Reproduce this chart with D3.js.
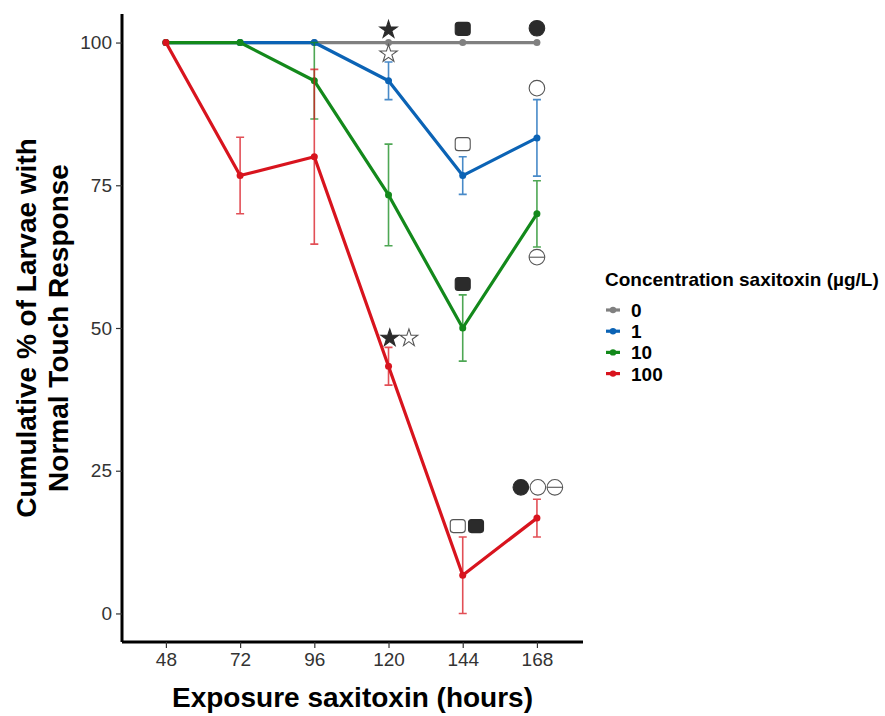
<!DOCTYPE html>
<html>
<head>
<meta charset="utf-8">
<script src="https://cdn.jsdelivr.net/npm/d3@7"></script>
<style>
  body { margin: 0; background: #fff; }
  text { font-family: "Liberation Sans", Arial, sans-serif; }
</style>
</head>
<body>
<div id="chart"></div>
<script>
// exposure times (hours)
var hours = [48, 72, 96, 120, 144, 168];

var concentrations = ["0", "1", "10", "100"];
var seriesColors = ["#808080", "#0b63b5", "#13891b", "#d8141e"];

// cumulative % of larvae with normal touch response, one array per concentration
var values0   = [100, 100, 100, 100, 100, 100];
var values1   = [100, 100, 100, 93.3, 76.7, 83.3];
var values10  = [100, 100, 93.3, 73.3, 50, 70];
var values100 = [100, 76.7, 80, 43.3, 6.7, 16.7];

// error (half length of bar)
var err0   = [0, 0, 0, 0, 0, 0];
var err1   = [0, 0, 0, 3.3, 3.3, 6.7];
var err10  = [0, 0, 6.7, 8.9, 5.8, 5.8];
var err100 = [0, 6.7, 15.3, 3.3, 6.7, 3.3];

var yTicks = [0, 25, 50, 75, 100];

// significance symbols: hour position, value, shape, filled or not
var markHours  = [120, 144, 168, 120, 144, 168, 144, 168, 120.4, 126.6, 142.4, 148.3, 162.8, 168.3, 173.8];
var markValues = [102.4, 102.4, 102.5, 98.2, 82.2, 92, 57.7, 62.4, 48.4, 48.4, 15.3, 15.3, 22.1, 22.1, 22.1];
var markShapes = ["star", "square", "circle", "star", "square", "circle", "square", "theta",
                  "star", "star", "square", "square", "circle", "circle", "theta"];
var markFilled = [true, true, true, false, false, false, true, false,
                  true, false, false, true, true, false, false];

var series = [values0, values1, values10, values100];
var errors = [err0, err1, err10, err100];

var w = 885, h = 716;
var svg = d3.select("#chart").append("svg")
    .attr("width", w)
    .attr("height", h);

var x = d3.scaleLinear().domain([33.8, 182.9]).range([122, 583]);
var y = d3.scaleLinear().domain([-5, 105]).range([642, 14]);

// axes
var xAxis = svg.append("g")
    .attr("transform", "translate(0,642)")
    .call(d3.axisBottom(x).tickValues(hours).tickSize(6).tickPadding(5));
var yAxis = svg.append("g")
    .attr("transform", "translate(122,0)")
    .call(d3.axisLeft(y).tickValues(yTicks).tickSize(6).tickPadding(4));

[xAxis, yAxis].forEach(function(a) {
  a.select(".domain").attr("stroke", "#000").attr("stroke-width", 3);
  a.selectAll(".tick line").attr("stroke", "#333").attr("stroke-width", 1.2);
  a.selectAll(".tick text")
    .style("font-size", "19px")
    .style("font-family", "Liberation Sans, Arial, sans-serif")
    .attr("fill", "#333");
});
xAxis.select(".domain").attr("d", "M122,0H583");
yAxis.select(".domain").attr("d", "M0,14V642");

// series
var line = d3.line()
    .x(function(d) { return x(d.h); })
    .y(function(d) { return y(d.v); });

series.forEach(function(vals, s) {
  var pts = vals.map(function(v, i) { return {h: hours[i], v: v, e: errors[s][i]}; });
  var g = svg.append("g");
  var color = seriesColors[s];

  var bars = pts.filter(function(d) { return d.e > 0; });
  g.selectAll(".eb")
    .data(bars)
    .enter()
    .append("path")
    .attr("d", function(d) {
      var cx = x(d.h), t = y(d.v + d.e), b = y(d.v - d.e);
      return "M" + (cx - 4) + "," + t + "H" + (cx + 4) +
             "M" + cx + "," + t + "V" + b +
             "M" + (cx - 4) + "," + b + "H" + (cx + 4);
    })
    .attr("fill", "none")
    .attr("stroke", color)
    .attr("stroke-opacity", 0.75)
    .attr("stroke-width", 1.6);

  g.append("path")
    .datum(pts)
    .attr("d", line)
    .attr("fill", "none")
    .attr("stroke", color)
    .attr("stroke-width", 3.2)
    .attr("stroke-linejoin", "round");

  g.selectAll("circle")
    .data(pts)
    .enter()
    .append("circle")
    .attr("cx", function(d) { return x(d.h); })
    .attr("cy", function(d) { return y(d.v); })
    .attr("r", 3.5)
    .attr("fill", color);
});

// significance symbols
var star = d3.symbol().type(d3.symbolStar).size(95);
markHours.forEach(function(hh, i) {
  var cx = x(hh), cy = y(markValues[i]);
  var fill = markFilled[i] ? "#2b2b2b" : "#fff";
  var stroke = markFilled[i] ? "#2b2b2b" : "#555";
  var shape = markShapes[i];
  if (shape == "star") {
    svg.append("path")
      .attr("d", star())
      .attr("transform", "translate(" + cx + "," + (cy + 1) + ")")
      .attr("fill", fill).attr("stroke", stroke).attr("stroke-width", 1.1);
  } else if (shape == "square") {
    svg.append("rect")
      .attr("x", cx - 7.5).attr("y", cy - 6.5)
      .attr("width", 15).attr("height", 13)
      .attr("rx", 3)
      .attr("fill", fill).attr("stroke", stroke).attr("stroke-width", 1.1);
  } else {
    svg.append("circle")
      .attr("cx", cx).attr("cy", cy).attr("r", 7.8)
      .attr("fill", fill).attr("stroke", stroke).attr("stroke-width", 1.1);
    if (shape == "theta") {
      svg.append("line")
        .attr("x1", cx - 7.8).attr("x2", cx + 7.8)
        .attr("y1", cy).attr("y2", cy)
        .attr("stroke", stroke).attr("stroke-width", 1.1);
    }
  }
});

// axis titles
svg.append("text")
  .attr("x", 352.5).attr("y", 707)
  .attr("text-anchor", "middle")
  .style("font-size", "28px").style("font-weight", "bold")
  .text("Exposure saxitoxin (hours)");

var yTitle = svg.append("g").attr("transform", "translate(0,328) rotate(-90)");
yTitle.append("text")
  .attr("x", 0).attr("y", 36)
  .attr("text-anchor", "middle")
  .style("font-size", "28px").style("font-weight", "bold")
  .text("Cumulative % of Larvae with");
yTitle.append("text")
  .attr("x", 0).attr("y", 68)
  .attr("text-anchor", "middle")
  .style("font-size", "28px").style("font-weight", "bold")
  .text("Normal Touch Response");

// legend
var legend = svg.append("g").attr("transform", "translate(605,0)");
legend.append("text")
  .attr("x", 0).attr("y", 286)
  .style("font-size", "19px").style("font-weight", "bold")
  .text("Concentration saxitoxin (µg/L)");

var items = legend.selectAll(".item")
  .data(concentrations)
  .enter()
  .append("g")
  .attr("transform", function(d, i) { return "translate(0," + (310 + i * 21.2) + ")"; });
items.append("line")
  .attr("x1", 1).attr("x2", 15)
  .attr("stroke", function(d, i) { return seriesColors[i]; })
  .attr("stroke-width", 3.2);
items.append("circle")
  .attr("cx", 8).attr("r", 3.2)
  .attr("fill", function(d, i) { return seriesColors[i]; });
items.append("text")
  .attr("x", 26).attr("y", 7)
  .style("font-size", "19px").style("font-weight", "bold")
  .text(function(d) { return d; });
</script>
</body>
</html>
